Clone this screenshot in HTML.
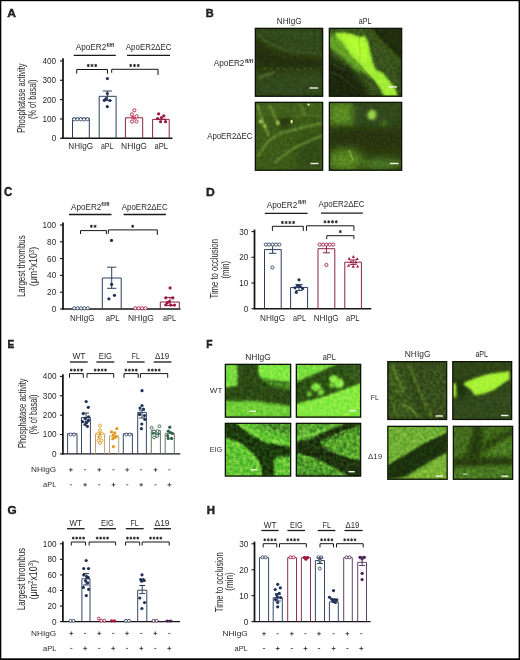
<!DOCTYPE html>
<html><head><meta charset="utf-8"><style>
html,body{margin:0;padding:0;background:#fff;}
svg{display:block;will-change:transform;}
text{font-family:"Liberation Sans",sans-serif;fill:#2a2a2a;}
</style></head><body>
<svg width="520" height="660" viewBox="0 0 520 660">
<defs><filter id="b0_6" x="-50%" y="-50%" width="200%" height="200%"><feGaussianBlur stdDeviation="0.6"/></filter><filter id="b0_7" x="-50%" y="-50%" width="200%" height="200%"><feGaussianBlur stdDeviation="0.7"/></filter><filter id="b0_8" x="-50%" y="-50%" width="200%" height="200%"><feGaussianBlur stdDeviation="0.8"/></filter><filter id="b0_9" x="-50%" y="-50%" width="200%" height="200%"><feGaussianBlur stdDeviation="0.9"/></filter><filter id="b1" x="-50%" y="-50%" width="200%" height="200%"><feGaussianBlur stdDeviation="1"/></filter><filter id="b1_0" x="-50%" y="-50%" width="200%" height="200%"><feGaussianBlur stdDeviation="1.0"/></filter><filter id="b1_1" x="-50%" y="-50%" width="200%" height="200%"><feGaussianBlur stdDeviation="1.1"/></filter><filter id="b1_2" x="-50%" y="-50%" width="200%" height="200%"><feGaussianBlur stdDeviation="1.2"/></filter><filter id="b1_3" x="-50%" y="-50%" width="200%" height="200%"><feGaussianBlur stdDeviation="1.3"/></filter><filter id="b1_5" x="-50%" y="-50%" width="200%" height="200%"><feGaussianBlur stdDeviation="1.5"/></filter><filter id="b1_8" x="-50%" y="-50%" width="200%" height="200%"><feGaussianBlur stdDeviation="1.8"/></filter><filter id="b2" x="-50%" y="-50%" width="200%" height="200%"><feGaussianBlur stdDeviation="2"/></filter><filter id="b2_5" x="-50%" y="-50%" width="200%" height="200%"><feGaussianBlur stdDeviation="2.5"/></filter><filter id="b3" x="-50%" y="-50%" width="200%" height="200%"><feGaussianBlur stdDeviation="3"/></filter><filter id="b4" x="-50%" y="-50%" width="200%" height="200%"><feGaussianBlur stdDeviation="4"/></filter><filter id="tex" x="0" y="0" width="100%" height="100%" color-interpolation-filters="sRGB"><feTurbulence type="fractalNoise" baseFrequency="0.3" numOctaves="2" seed="3"/><feColorMatrix type="matrix" values="2 0 0 0 -0.5  2 0 0 0 -0.5  2 0 0 0 -0.5  0 0 0 0 1"/><feGaussianBlur stdDeviation="0.45"/></filter><clipPath id="cp1"><rect x="255" y="28" width="68" height="68.6"/></clipPath><clipPath id="cp2"><rect x="329" y="28" width="73" height="68.6"/></clipPath><clipPath id="cp3"><rect x="255" y="102" width="68" height="68.6"/></clipPath><clipPath id="cp4"><rect x="329" y="102" width="73" height="68.6"/></clipPath><clipPath id="cp5"><rect x="225" y="364" width="66" height="53.5"/></clipPath><clipPath id="cp6"><rect x="296" y="364" width="65" height="53.5"/></clipPath><clipPath id="cp7"><rect x="225" y="423" width="66" height="53.4"/></clipPath><clipPath id="cp8"><rect x="296" y="423" width="65" height="53.4"/></clipPath><clipPath id="cp9"><rect x="387.5" y="361.3" width="59.5" height="58.5"/></clipPath><clipPath id="cp10"><rect x="452.5" y="361.3" width="59.5" height="58.5"/></clipPath><clipPath id="cp11"><rect x="387.5" y="426" width="60" height="53.6"/></clipPath><clipPath id="cp12"><rect x="453" y="426" width="60" height="53.6"/></clipPath></defs>
<rect x="0" y="0" width="520" height="660" fill="#000"/>
<rect x="1.3" y="1.2" width="517.3" height="657.1" fill="#fff"/>
<text x="0" y="0" font-size="11.06" font-weight="bold" fill="#000" stroke="#000" stroke-width="0.35" transform="translate(7.3 16.71) scale(1.093 1)">A</text>
<line x1="63" y1="58.2" x2="63" y2="138.8" stroke="#151515" stroke-width="1.75"/>
<line x1="60" y1="138.3" x2="63" y2="138.3" stroke="#151515" stroke-width="1.1"/>
<text x="56.2" y="141.2" font-size="8.2" text-anchor="end">0</text>
<line x1="60" y1="118.95" x2="63" y2="118.95" stroke="#151515" stroke-width="1.1"/>
<text x="56.2" y="121.85" font-size="8.2" text-anchor="end">100</text>
<line x1="60" y1="99.6" x2="63" y2="99.6" stroke="#151515" stroke-width="1.1"/>
<text x="56.2" y="102.5" font-size="8.2" text-anchor="end">200</text>
<line x1="60" y1="80.25" x2="63" y2="80.25" stroke="#151515" stroke-width="1.1"/>
<text x="56.2" y="83.15" font-size="8.2" text-anchor="end">300</text>
<line x1="60" y1="60.9" x2="63" y2="60.9" stroke="#151515" stroke-width="1.1"/>
<text x="56.2" y="63.8" font-size="8.2" text-anchor="end">400</text>
<line x1="61.5" y1="138.3" x2="172.5" y2="138.3" stroke="#151515" stroke-width="1.4"/>
<text x="0" y="0" font-size="10.2" text-anchor="middle" textLength="69.3" lengthAdjust="spacingAndGlyphs" transform="translate(25 98.1) rotate(-90)">Phosphatase activity</text>
<text x="0" y="0" font-size="10.2" text-anchor="middle" textLength="39.5" lengthAdjust="spacingAndGlyphs" transform="translate(36.2 99.3) rotate(-90)">(% of basal)</text>
<text x="75.8" y="49.8" font-size="8.4" textLength="30.5" lengthAdjust="spacingAndGlyphs">ApoER2</text>
<text x="106.6" y="46.6" font-size="5.8" textLength="7.6" lengthAdjust="spacingAndGlyphs" font-weight="bold">fl/fl</text>
<line x1="73.7" y1="55.3" x2="115.8" y2="55.3" stroke="#1a1a1a" stroke-width="1.3"/>
<text x="125.8" y="49.8" font-size="8.4" textLength="45.8" lengthAdjust="spacingAndGlyphs">ApoER2ΔEC</text>
<line x1="127" y1="55.3" x2="170" y2="55.3" stroke="#1a1a1a" stroke-width="1.3"/>
<path d="M76.7 73.7V69.5H107.5V73.7" stroke="#151515" stroke-width="1" fill="none"/>
<path d="M88.25 64.35L88.25 66.65M87.25 64.92L89.25 66.08M87.25 66.08L89.25 64.92" stroke="#1a1a1a" stroke-width="0.95" stroke-linecap="round"/>
<path d="M92 64.35L92 66.65M91 64.92L93 66.08M91 66.08L93 64.92" stroke="#1a1a1a" stroke-width="0.95" stroke-linecap="round"/>
<path d="M95.75 64.35L95.75 66.65M94.75 64.92L96.75 66.08M94.75 66.08L96.75 64.92" stroke="#1a1a1a" stroke-width="0.95" stroke-linecap="round"/>
<path d="M111.7 72.8V69.3H158V75" stroke="#151515" stroke-width="1" fill="none"/>
<path d="M130.75 64.35L130.75 66.65M129.75 64.92L131.75 66.08M129.75 66.08L131.75 64.92" stroke="#1a1a1a" stroke-width="0.95" stroke-linecap="round"/>
<path d="M134.5 64.35L134.5 66.65M133.5 64.92L135.5 66.08M133.5 66.08L135.5 64.92" stroke="#1a1a1a" stroke-width="0.95" stroke-linecap="round"/>
<path d="M138.25 64.35L138.25 66.65M137.25 64.92L139.25 66.08M137.25 66.08L139.25 64.92" stroke="#1a1a1a" stroke-width="0.95" stroke-linecap="round"/>
<path d="M72.5 138.3V118.2H89.3V138.3" stroke="#2c3d5e" stroke-width="1" fill="none"/>
<circle cx="74.1" cy="119.3" r="1.6" fill="#fff" stroke="#2c3d5e" stroke-width="0.85"/>
<circle cx="77.4" cy="119.3" r="1.6" fill="#fff" stroke="#2c3d5e" stroke-width="0.85"/>
<circle cx="80.8" cy="119.3" r="1.6" fill="#fff" stroke="#2c3d5e" stroke-width="0.85"/>
<circle cx="84.1" cy="119.3" r="1.6" fill="#fff" stroke="#2c3d5e" stroke-width="0.85"/>
<circle cx="87.4" cy="119.3" r="1.6" fill="#fff" stroke="#2c3d5e" stroke-width="0.85"/>
<path d="M99.2 138.3V96.3H116.1V138.3" stroke="#2c3d5e" stroke-width="1" fill="none"/>
<line x1="107.4" y1="91" x2="107.4" y2="100.5" stroke="#2c3d5e" stroke-width="1"/>
<line x1="102.9" y1="91" x2="111.9" y2="91" stroke="#2c3d5e" stroke-width="1"/>
<line x1="102.9" y1="100.5" x2="111.9" y2="100.5" stroke="#2c3d5e" stroke-width="1"/>
<circle cx="107.4" cy="78.6" r="1.6" fill="#1f3155"/>
<circle cx="107.4" cy="93.5" r="1.6" fill="#1f3155"/>
<circle cx="104.3" cy="100.3" r="1.6" fill="#1f3155"/>
<circle cx="109.8" cy="100.5" r="1.6" fill="#1f3155"/>
<circle cx="107.3" cy="106.6" r="1.6" fill="#1f3155"/>
<circle cx="106" cy="98.5" r="1.6" fill="#1f3155"/>
<path d="M125.4 138.3V117.8H142.7V138.3" stroke="#8a2444" stroke-width="1" fill="none"/>
<circle cx="134.3" cy="110.3" r="1.6" fill="#fff" stroke="#a3173f" stroke-width="0.85"/>
<circle cx="131.8" cy="114.4" r="1.6" fill="#fff" stroke="#a3173f" stroke-width="0.85"/>
<circle cx="136.5" cy="116.3" r="1.6" fill="#fff" stroke="#a3173f" stroke-width="0.85"/>
<circle cx="132" cy="121.5" r="1.6" fill="#fff" stroke="#a3173f" stroke-width="0.85"/>
<circle cx="136.5" cy="121.5" r="1.6" fill="#fff" stroke="#a3173f" stroke-width="0.85"/>
<circle cx="134.3" cy="118.2" r="1.6" fill="#c46"/>
<circle cx="132.8" cy="117.2" r="1.6" fill="#c46"/>
<path d="M152.6 138.3V119.4H169.2V138.3" stroke="#8a2444" stroke-width="1" fill="none"/>
<circle cx="158.6" cy="113.8" r="1.6" fill="#a3173f"/>
<circle cx="161.5" cy="117.5" r="1.6" fill="#a3173f"/>
<circle cx="163.8" cy="115.8" r="1.6" fill="#a3173f"/>
<circle cx="160.6" cy="121.7" r="1.6" fill="#a3173f"/>
<circle cx="165.6" cy="121.7" r="1.6" fill="#a3173f"/>
<circle cx="157.6" cy="118.6" r="1.6" fill="#a3173f"/>
<line x1="156" y1="119.2" x2="166" y2="119.2" stroke="#8a2444" stroke-width="1"/>
<text x="68.3" y="148.7" font-size="8.4" textLength="24.8" lengthAdjust="spacingAndGlyphs">NHIgG</text>
<text x="101" y="148.7" font-size="8.4" textLength="12.4" lengthAdjust="spacingAndGlyphs">aPL</text>
<text x="121" y="148.7" font-size="8.4" textLength="26" lengthAdjust="spacingAndGlyphs">NHIgG</text>
<text x="154.5" y="148.7" font-size="8.4" textLength="13.5" lengthAdjust="spacingAndGlyphs">aPL</text>
<text x="0" y="0" font-size="10.63" font-weight="bold" fill="#000" stroke="#000" stroke-width="0.35" transform="translate(205.86 16.71) scale(1.035 1)">B</text>
<text x="276.8" y="23.7" font-size="8.3" textLength="24.9" lengthAdjust="spacingAndGlyphs">NHIgG</text>
<text x="358.8" y="23.8" font-size="8.3" textLength="12.7" lengthAdjust="spacingAndGlyphs">aPL</text>
<text x="213.8" y="66.4" font-size="8.4" textLength="30.6" lengthAdjust="spacingAndGlyphs">ApoER2</text>
<text x="245" y="63.2" font-size="5.8" textLength="8.2" lengthAdjust="spacingAndGlyphs" font-weight="bold">fl/fl</text>
<text x="207.2" y="138.5" font-size="8.4" textLength="45.3" lengthAdjust="spacingAndGlyphs">ApoER2ΔEC</text>
<g clip-path="url(#cp1)">
<rect x="255" y="28" width="68" height="68.6" fill="#2d3e12"/>
<polygon points="255,28 323,28 323,56 295,53 275,45 261,36 255,34" fill="#33481a" filter="url(#b3)"/>
<path d="M257 34 L269 44 L285 50 L305 53 L323 54" stroke="#45602a" stroke-width="2.2" fill="none" opacity="0.9" filter="url(#b1_2)"/>
<path d="M265 32 L295 33 L323 34" stroke="#45602a" stroke-width="1.2" fill="none" opacity="0.6" filter="url(#b1)"/>
<polygon points="255,40 267,50 285,57 323,60 323,69 285,68 255,66" fill="#222f0c" filter="url(#b3)"/>
<polygon points="255,74 323,72 323,96.6 255,96.6" fill="#33481a" filter="url(#b4)"/>
<path d="M255 28 L255 96.6" stroke="#1e2a0a" stroke-width="4" fill="none" opacity="0.8" filter="url(#b1_5)"/>
<path d="M258 78 L275 72" stroke="#6a8a3a" stroke-width="1.8" fill="none" opacity="0.8" filter="url(#b0_8)"/>
<ellipse cx="265" cy="68.5" rx="1.3" ry="1.1" fill="#4e6e2a" opacity="0.6" filter="url(#b0_7)"/>
<ellipse cx="271.6" cy="69.1" rx="1.3" ry="1.1" fill="#4e6e2a" opacity="0.6" filter="url(#b0_7)"/>
<ellipse cx="278.2" cy="68.5" rx="1.3" ry="1.1" fill="#4e6e2a" opacity="0.6" filter="url(#b0_7)"/>
<ellipse cx="284.8" cy="69.1" rx="1.3" ry="1.1" fill="#4e6e2a" opacity="0.6" filter="url(#b0_7)"/>
<ellipse cx="291.4" cy="68.5" rx="1.3" ry="1.1" fill="#4e6e2a" opacity="0.6" filter="url(#b0_7)"/>
<ellipse cx="298" cy="69.1" rx="1.3" ry="1.1" fill="#4e6e2a" opacity="0.6" filter="url(#b0_7)"/>
<ellipse cx="304.6" cy="68.5" rx="1.3" ry="1.1" fill="#4e6e2a" opacity="0.6" filter="url(#b0_7)"/>
<ellipse cx="311.2" cy="69.1" rx="1.3" ry="1.1" fill="#4e6e2a" opacity="0.6" filter="url(#b0_7)"/>
<rect x="255" y="28" width="68" height="68.6" filter="url(#tex)" style="mix-blend-mode:overlay" opacity="0.1"/>
<rect x="309.5" y="87.3" width="8.6" height="1.4" fill="#f4f4e8"/>
</g>
<rect x="255.35" y="28.35" width="67.3" height="67.9" fill="none" stroke="#0e1408" stroke-width="1.3"/>
<g clip-path="url(#cp2)">
<rect x="329" y="28" width="73" height="68.6" fill="#1e2a0e"/>
<polygon points="335,28 369,28 389,48 402,62 402,96.6 367,96.6 351,72 329,58 329,36" fill="#38521a" filter="url(#b3)"/>
<polygon points="369,28 402,28 402,58 387,44" fill="#222f0e" filter="url(#b3)"/>
<path d="M365 28 L402 66" stroke="#3e5a1a" stroke-width="3" fill="none" opacity="0.8" filter="url(#b1_5)"/>
<path d="M377 32 L402 56" stroke="#1a240a" stroke-width="1.5" fill="none" opacity="0.8" filter="url(#b1)"/>
<polygon points="329,58 347,68 363,84 369,96.6 329,96.6" fill="#1d280c" filter="url(#b3)"/>
<polygon points="329,28 369,28 365,34 343,32 329,36" fill="#3e5e1a" filter="url(#b1_5)"/>
<polygon points="329,36 337,33 343,36 351,48 359,60 367,72 359,72 349,64 339,55 329,48" fill="#64a026" filter="url(#b1_5)"/>
<polygon points="335,33 343,32.5 352,34 359,37 365,36 368,42 370.5,54 374,65.5 377,71 382,72 387,78 392,84 396,90 398,96.6 384,96.6 380,88 374,80 366,73 358.7,63 350,54 344.8,45 337.5,38" fill="#a2ee34" filter="url(#b1_3)"/>
<polygon points="343,35 357,38 364,40 367,50 369,60 363,62 355,54 347,44" fill="#b2fc30" filter="url(#b2)"/>
<path d="M359 32 L360 48 L360 64" stroke="#6a9a28" stroke-width="0.9" fill="none" opacity="0.35" filter="url(#b0_6)"/>
<path d="M369 28 L402 62" stroke="#587a26" stroke-width="1.6" fill="none" opacity="0.6" filter="url(#b0_8)"/>
<path d="M359 64 L373 80 L379 92" stroke="#2a4010" stroke-width="1" fill="none" opacity="0.35" filter="url(#b0_6)"/>
<path d="M331 72 L343 78 L357 90" stroke="#34501a" stroke-width="1" fill="none" opacity="0.7" filter="url(#b0_6)"/>
<path d="M333 64 L345 70" stroke="#3c5a1a" stroke-width="1" fill="none" opacity="0.8" filter="url(#b0_6)"/>
<rect x="329" y="28" width="73" height="68.6" filter="url(#tex)" style="mix-blend-mode:overlay" opacity="0.15"/>
<rect x="388.5" y="86.2" width="8.5" height="1.4" fill="#f4f4e8"/>
</g>
<rect x="329.35" y="28.35" width="72.3" height="67.9" fill="none" stroke="#0e1408" stroke-width="1.3"/>
<g clip-path="url(#cp3)">
<rect x="255" y="102" width="68" height="68.6" fill="#3d5a18"/>
<ellipse cx="285" cy="121" rx="6.5" ry="7" fill="#26380e" filter="url(#b2_5)"/>
<polygon points="299,138 323,132 323,170.6 295,170.6" fill="#334c14" filter="url(#b4)"/>
<polygon points="255,102 323,102 323,114 255,114" fill="#42621a" filter="url(#b3)"/>
<path d="M257.6 104.6 L262.8 121.6 L265.5 128 L269 136" stroke="#82ac44" stroke-width="2" fill="none" opacity="0.75" filter="url(#b1_0)"/>
<path d="M269.4 104.6 L274 115 L278.5 124" stroke="#82ac44" stroke-width="2" fill="none" opacity="0.7" filter="url(#b1_0)"/>
<path d="M300.7 104.6 L304.7 115" stroke="#7ca640" stroke-width="1.8" fill="none" opacity="0.55" filter="url(#b1_0)"/>
<path d="M257.6 157 L268 141 L281 133 L300.7 128 L323 123" stroke="#7aa640" stroke-width="2" fill="none" opacity="0.75" filter="url(#b1_0)"/>
<path d="M274.6 163 L294 147.7 L323 135" stroke="#7aa640" stroke-width="2" fill="none" opacity="0.7" filter="url(#b1_0)"/>
<path d="M280 117 L300 116 L323 115" stroke="#5a8428" stroke-width="2" fill="none" opacity="0.5" filter="url(#b1_2)"/>
<ellipse cx="260.9" cy="121.6" rx="1.9" ry="1.9" fill="#d0f070" filter="url(#b0_8)"/>
<ellipse cx="264.8" cy="126.2" rx="1.5" ry="1.5" fill="#b8e060" filter="url(#b0_8)"/>
<ellipse cx="277.9" cy="123" rx="1.5" ry="2" fill="#c0e868" filter="url(#b0_8)"/>
<ellipse cx="291.6" cy="121.6" rx="1.1" ry="1.8" fill="#e8ff90" filter="url(#b0_6)"/>
<ellipse cx="308.6" cy="104.6" rx="1.3" ry="1.1" fill="#e8ff90" filter="url(#b0_6)"/>
<rect x="255" y="102" width="68" height="68.6" filter="url(#tex)" style="mix-blend-mode:overlay" opacity="0.1"/>
<rect x="310.5" y="162.8" width="8" height="1.4" fill="#f4f4e8"/>
</g>
<rect x="255.35" y="102.35" width="67.3" height="67.9" fill="none" stroke="#0e1408" stroke-width="1.3"/>
<g clip-path="url(#cp4)">
<rect x="329" y="102" width="73" height="68.6" fill="#2c3c10"/>
<polygon points="349,102 402,102 402,128 349,128" fill="#33481a" filter="url(#b3)"/>
<polygon points="329,102 353,102 353,126 329,126" fill="#5a8a22" filter="url(#b3)"/>
<ellipse cx="372" cy="115" rx="4.5" ry="5" fill="#9cd848" filter="url(#b1_8)"/>
<ellipse cx="384" cy="124" rx="4" ry="3" fill="#4a7420" filter="url(#b2)"/>
<polygon points="329,129 402,129 402,148 329,148" fill="#26340d" filter="url(#b4)"/>
<ellipse cx="345" cy="160" rx="18" ry="11" fill="#5a8a24" filter="url(#b4)"/>
<ellipse cx="381" cy="164" rx="22" ry="6" fill="#4a7420" filter="url(#b3)"/>
<path d="M349 150 L353 160" stroke="#8dc450" stroke-width="1.2" fill="none" opacity="0.7" filter="url(#b0_7)"/>
<rect x="329" y="102" width="73" height="68.6" filter="url(#tex)" style="mix-blend-mode:overlay" opacity="0.1"/>
<rect x="390" y="162.8" width="8.5" height="1.4" fill="#f4f4e8"/>
</g>
<rect x="329.35" y="102.35" width="72.3" height="67.9" fill="none" stroke="#0e1408" stroke-width="1.3"/>
<text x="0" y="0" font-size="12.02" font-weight="bold" fill="#000" stroke="#000" stroke-width="0.35" transform="translate(4.03 195.69) scale(0.955 1)">C</text>
<line x1="63" y1="222.5" x2="63" y2="309.5" stroke="#151515" stroke-width="1.75"/>
<line x1="60" y1="309" x2="63" y2="309" stroke="#151515" stroke-width="1.1"/>
<text x="56.2" y="311.9" font-size="8.2" text-anchor="end">0</text>
<line x1="60" y1="292.2" x2="63" y2="292.2" stroke="#151515" stroke-width="1.1"/>
<text x="56.2" y="295.1" font-size="8.2" text-anchor="end">20</text>
<line x1="60" y1="275.4" x2="63" y2="275.4" stroke="#151515" stroke-width="1.1"/>
<text x="56.2" y="278.3" font-size="8.2" text-anchor="end">40</text>
<line x1="60" y1="258.6" x2="63" y2="258.6" stroke="#151515" stroke-width="1.1"/>
<text x="56.2" y="261.5" font-size="8.2" text-anchor="end">60</text>
<line x1="60" y1="241.8" x2="63" y2="241.8" stroke="#151515" stroke-width="1.1"/>
<text x="56.2" y="244.7" font-size="8.2" text-anchor="end">80</text>
<line x1="60" y1="225" x2="63" y2="225" stroke="#151515" stroke-width="1.1"/>
<text x="56.2" y="227.9" font-size="8.2" text-anchor="end">100</text>
<line x1="62" y1="309" x2="180.5" y2="309" stroke="#151515" stroke-width="1.4"/>
<text x="0" y="0" font-size="10.2" text-anchor="middle" textLength="61.8" lengthAdjust="spacingAndGlyphs" transform="translate(25.1 266.2) rotate(-90)">Largest thrombus</text>
<g transform="translate(37 266.5) rotate(-90)"><text x="0" y="0" font-size="10.2" text-anchor="middle" fill="#2a2a2a" textLength="39.4" lengthAdjust="spacingAndGlyphs">(μm<tspan font-size="7" dy="-3.4">2</tspan><tspan dy="3.4">x10</tspan><tspan font-size="7" dy="-3.4">3</tspan><tspan dy="3.4">)</tspan></text></g>
<text x="71" y="209.6" font-size="8.4" textLength="30.3" lengthAdjust="spacingAndGlyphs">ApoER2</text>
<text x="101.3" y="205.8" font-size="5.8" textLength="8.3" lengthAdjust="spacingAndGlyphs" font-weight="bold">fl/fl</text>
<line x1="69" y1="214.5" x2="111.5" y2="214.5" stroke="#1a1a1a" stroke-width="1.3"/>
<text x="121.7" y="209.7" font-size="8.4" textLength="46" lengthAdjust="spacingAndGlyphs">ApoER2ΔEC</text>
<line x1="123.6" y1="214.5" x2="165.9" y2="214.5" stroke="#1a1a1a" stroke-width="1.3"/>
<path d="M80.5 234V230.6H106.4V234" stroke="#151515" stroke-width="1" fill="none"/>
<path d="M91.33 225.15L91.33 227.45M90.33 225.73L92.32 226.88M90.33 226.88L92.32 225.73" stroke="#1a1a1a" stroke-width="0.95" stroke-linecap="round"/>
<path d="M95.08 225.15L95.08 227.45M94.08 225.73L96.07 226.88M94.08 226.88L96.07 225.73" stroke="#1a1a1a" stroke-width="0.95" stroke-linecap="round"/>
<path d="M108.3 233.7V229.9H157.3V234.9" stroke="#151515" stroke-width="1" fill="none"/>
<path d="M132.7 225.15L132.7 227.45M131.7 225.73L133.7 226.88M131.7 226.88L133.7 225.73" stroke="#1a1a1a" stroke-width="0.95" stroke-linecap="round"/>
<circle cx="74.2" cy="308.3" r="1.6" fill="#fff" stroke="#2c3d5e" stroke-width="0.85"/>
<circle cx="77.6" cy="308.3" r="1.6" fill="#fff" stroke="#2c3d5e" stroke-width="0.85"/>
<circle cx="81" cy="308.3" r="1.6" fill="#fff" stroke="#2c3d5e" stroke-width="0.85"/>
<circle cx="84.4" cy="308.3" r="1.6" fill="#fff" stroke="#2c3d5e" stroke-width="0.85"/>
<circle cx="87.8" cy="308.3" r="1.6" fill="#fff" stroke="#2c3d5e" stroke-width="0.85"/>
<path d="M102.3 309V278H121.2V309" stroke="#2c3d5e" stroke-width="1" fill="none"/>
<line x1="111.7" y1="267.2" x2="111.7" y2="288.3" stroke="#2c3d5e" stroke-width="1"/>
<line x1="107.1" y1="267.2" x2="116.3" y2="267.2" stroke="#2c3d5e" stroke-width="1"/>
<line x1="107.1" y1="288.3" x2="116.3" y2="288.3" stroke="#2c3d5e" stroke-width="1"/>
<circle cx="111.5" cy="240.4" r="1.6" fill="#1f3155"/>
<circle cx="111.6" cy="284.4" r="1.6" fill="#1f3155"/>
<circle cx="114.5" cy="295.3" r="1.6" fill="#1f3155"/>
<circle cx="108.9" cy="298.8" r="1.6" fill="#1f3155"/>
<circle cx="135.3" cy="308.3" r="1.6" fill="#fff" stroke="#a3173f" stroke-width="0.85"/>
<circle cx="138.7" cy="308.3" r="1.6" fill="#fff" stroke="#a3173f" stroke-width="0.85"/>
<circle cx="142.1" cy="308.3" r="1.6" fill="#fff" stroke="#a3173f" stroke-width="0.85"/>
<circle cx="145.5" cy="308.3" r="1.6" fill="#fff" stroke="#a3173f" stroke-width="0.85"/>
<path d="M160.3 309V302H179.3V309" stroke="#8a2444" stroke-width="1" fill="none"/>
<line x1="170" y1="297.4" x2="170" y2="305.5" stroke="#8a2444" stroke-width="1"/>
<line x1="165.8" y1="297.4" x2="174.2" y2="297.4" stroke="#8a2444" stroke-width="1"/>
<line x1="165.8" y1="305.5" x2="174.2" y2="305.5" stroke="#8a2444" stroke-width="1"/>
<circle cx="170.1" cy="287.9" r="1.6" fill="#a3173f"/>
<circle cx="165.8" cy="297.8" r="1.6" fill="#a3173f"/>
<circle cx="172.8" cy="297.9" r="1.6" fill="#a3173f"/>
<circle cx="169.4" cy="301.5" r="1.6" fill="#a3173f"/>
<circle cx="165.8" cy="304.8" r="1.6" fill="#a3173f"/>
<circle cx="171" cy="305.1" r="1.6" fill="#a3173f"/>
<circle cx="174.5" cy="305.1" r="1.6" fill="#a3173f"/>
<circle cx="167.3" cy="302.7" r="1.6" fill="#a3173f"/>
<text x="70" y="320.7" font-size="8.4" textLength="24.5" lengthAdjust="spacingAndGlyphs">NHIgG</text>
<text x="105.7" y="320.7" font-size="8.4" textLength="13.8" lengthAdjust="spacingAndGlyphs">aPL</text>
<text x="128" y="320.7" font-size="8.4" textLength="25.7" lengthAdjust="spacingAndGlyphs">NHIgG</text>
<text x="163" y="320.7" font-size="8.4" textLength="13" lengthAdjust="spacingAndGlyphs">aPL</text>
<text x="0" y="0" font-size="11.5" font-weight="bold" fill="#000" stroke="#000" stroke-width="0.35" transform="translate(206.09 195.51) scale(1.052 1)">D</text>
<line x1="254.5" y1="229.5" x2="254.5" y2="309.2" stroke="#151515" stroke-width="1.75"/>
<line x1="251.5" y1="308.7" x2="254.5" y2="308.7" stroke="#151515" stroke-width="1.1"/>
<text x="248.3" y="311.6" font-size="8.2" text-anchor="end">0</text>
<line x1="251.5" y1="283" x2="254.5" y2="283" stroke="#151515" stroke-width="1.1"/>
<text x="248.3" y="285.9" font-size="8.2" text-anchor="end">10</text>
<line x1="251.5" y1="257.3" x2="254.5" y2="257.3" stroke="#151515" stroke-width="1.1"/>
<text x="248.3" y="260.2" font-size="8.2" text-anchor="end">20</text>
<line x1="251.5" y1="231.6" x2="254.5" y2="231.6" stroke="#151515" stroke-width="1.1"/>
<text x="248.3" y="234.5" font-size="8.2" text-anchor="end">30</text>
<line x1="253.8" y1="308.7" x2="371.3" y2="308.7" stroke="#151515" stroke-width="1.4"/>
<text x="0" y="0" font-size="10.4" text-anchor="middle" textLength="59.4" lengthAdjust="spacingAndGlyphs" transform="translate(218.2 268.8) rotate(-90)">Time to occlusion</text>
<text x="0" y="0" font-size="10.2" text-anchor="middle" textLength="17.6" lengthAdjust="spacingAndGlyphs" transform="translate(229.3 269.7) rotate(-90)">(min)</text>
<text x="266.7" y="207.6" font-size="8.4" textLength="30.5" lengthAdjust="spacingAndGlyphs">ApoER2</text>
<text x="298" y="204.4" font-size="5.8" textLength="8" lengthAdjust="spacingAndGlyphs" font-weight="bold">fl/fl</text>
<line x1="264.8" y1="213.4" x2="307.6" y2="213.4" stroke="#1a1a1a" stroke-width="1.3"/>
<text x="318.6" y="207.4" font-size="8.4" textLength="46" lengthAdjust="spacingAndGlyphs">ApoER2ΔEC</text>
<line x1="321" y1="213.2" x2="362.8" y2="213.2" stroke="#1a1a1a" stroke-width="1.3"/>
<path d="M272.4 230.9V226.3H303.3V230.9" stroke="#151515" stroke-width="1" fill="none"/>
<path d="M282.38 221.35L282.38 223.65M281.38 221.93L283.37 223.07M281.38 223.07L283.37 221.93" stroke="#1a1a1a" stroke-width="0.95" stroke-linecap="round"/>
<path d="M286.12 221.35L286.12 223.65M285.13 221.93L287.12 223.07M285.13 223.07L287.12 221.93" stroke="#1a1a1a" stroke-width="0.95" stroke-linecap="round"/>
<path d="M289.88 221.35L289.88 223.65M288.88 221.93L290.87 223.07M288.88 223.07L290.87 221.93" stroke="#1a1a1a" stroke-width="0.95" stroke-linecap="round"/>
<path d="M293.62 221.35L293.62 223.65M292.63 221.93L294.62 223.07M292.63 223.07L294.62 221.93" stroke="#1a1a1a" stroke-width="0.95" stroke-linecap="round"/>
<path d="M306.5 230.8V225.8H353.9V230.8" stroke="#151515" stroke-width="1" fill="none"/>
<path d="M324.98 220.65L324.98 222.95M323.98 221.23L325.97 222.38M323.98 222.38L325.97 221.23" stroke="#1a1a1a" stroke-width="0.95" stroke-linecap="round"/>
<path d="M328.73 220.65L328.73 222.95M327.73 221.23L329.72 222.38M327.73 222.38L329.72 221.23" stroke="#1a1a1a" stroke-width="0.95" stroke-linecap="round"/>
<path d="M332.48 220.65L332.48 222.95M331.48 221.23L333.47 222.38M331.48 222.38L333.47 221.23" stroke="#1a1a1a" stroke-width="0.95" stroke-linecap="round"/>
<path d="M336.23 220.65L336.23 222.95M335.23 221.23L337.22 222.38M335.23 222.38L337.22 221.23" stroke="#1a1a1a" stroke-width="0.95" stroke-linecap="round"/>
<path d="M326.8 239.1V235.7H353.9V239.1" stroke="#151515" stroke-width="1" fill="none"/>
<path d="M340.3 230.45L340.3 232.75M339.3 231.03L341.3 232.17M339.3 232.17L341.3 231.03" stroke="#1a1a1a" stroke-width="0.95" stroke-linecap="round"/>
<path d="M264.5 308.7V249.6H281.2V308.7" stroke="#2c3d5e" stroke-width="1" fill="none"/>
<line x1="272.6" y1="244.6" x2="272.6" y2="253.3" stroke="#2c3d5e" stroke-width="1"/>
<line x1="268.9" y1="244.6" x2="276.3" y2="244.6" stroke="#2c3d5e" stroke-width="1"/>
<line x1="268.9" y1="253.3" x2="276.3" y2="253.3" stroke="#2c3d5e" stroke-width="1"/>
<circle cx="265.8" cy="244.6" r="1.6" fill="#fff" stroke="#2c3d5e" stroke-width="0.85"/>
<circle cx="269.2" cy="244.6" r="1.6" fill="#fff" stroke="#2c3d5e" stroke-width="0.85"/>
<circle cx="272.6" cy="244.6" r="1.6" fill="#fff" stroke="#2c3d5e" stroke-width="0.85"/>
<circle cx="276" cy="244.6" r="1.6" fill="#fff" stroke="#2c3d5e" stroke-width="0.85"/>
<circle cx="279.4" cy="244.6" r="1.6" fill="#fff" stroke="#2c3d5e" stroke-width="0.85"/>
<circle cx="272.4" cy="267.5" r="1.6" fill="#fff" stroke="#2c3d5e" stroke-width="0.85"/>
<path d="M290.6 308.7V287.4H307.6V308.7" stroke="#2c3d5e" stroke-width="1" fill="none"/>
<line x1="299" y1="284.6" x2="299" y2="290.6" stroke="#2c3d5e" stroke-width="1"/>
<line x1="295.4" y1="284.6" x2="302.6" y2="284.6" stroke="#2c3d5e" stroke-width="1"/>
<line x1="295.4" y1="290.6" x2="302.6" y2="290.6" stroke="#2c3d5e" stroke-width="1"/>
<circle cx="299" cy="279.8" r="1.6" fill="#1f3155"/>
<circle cx="297.6" cy="285.7" r="1.6" fill="#1f3155"/>
<circle cx="296.3" cy="292.3" r="1.6" fill="#1f3155"/>
<circle cx="302.6" cy="288.5" r="1.6" fill="#1f3155"/>
<circle cx="300.2" cy="286.6" r="1.6" fill="#1f3155"/>
<circle cx="295" cy="287.8" r="1.6" fill="#1f3155"/>
<path d="M318 308.7V248.7H334.8V308.7" stroke="#8a2444" stroke-width="1" fill="none"/>
<line x1="326.4" y1="244.6" x2="326.4" y2="252.8" stroke="#8a2444" stroke-width="1"/>
<line x1="322.8" y1="244.6" x2="330" y2="244.6" stroke="#8a2444" stroke-width="1"/>
<line x1="322.8" y1="252.8" x2="330" y2="252.8" stroke="#8a2444" stroke-width="1"/>
<circle cx="319.6" cy="244.6" r="1.6" fill="#fff" stroke="#a3173f" stroke-width="0.85"/>
<circle cx="323" cy="244.6" r="1.6" fill="#fff" stroke="#a3173f" stroke-width="0.85"/>
<circle cx="326.4" cy="244.6" r="1.6" fill="#fff" stroke="#a3173f" stroke-width="0.85"/>
<circle cx="329.8" cy="244.6" r="1.6" fill="#fff" stroke="#a3173f" stroke-width="0.85"/>
<circle cx="333.2" cy="244.6" r="1.6" fill="#fff" stroke="#a3173f" stroke-width="0.85"/>
<circle cx="326.4" cy="265" r="1.6" fill="#fff" stroke="#a3173f" stroke-width="0.85"/>
<path d="M344.8 308.7V262.2H361.4V308.7" stroke="#8a2444" stroke-width="1" fill="none"/>
<line x1="353.1" y1="259.9" x2="353.1" y2="264.6" stroke="#8a2444" stroke-width="1"/>
<line x1="349.5" y1="259.9" x2="356.7" y2="259.9" stroke="#8a2444" stroke-width="1"/>
<line x1="349.5" y1="264.6" x2="356.7" y2="264.6" stroke="#8a2444" stroke-width="1"/>
<path d="M349.2 256.9L350.83 259.76L347.57 259.76Z" fill="#a3173f"/>
<path d="M353.4 255.09L355.03 257.96L351.77 257.96Z" fill="#a3173f"/>
<path d="M357.2 257.19L358.83 260.06L355.57 260.06Z" fill="#a3173f"/>
<path d="M348.6 263.9L350.23 266.76L346.97 266.76Z" fill="#a3173f"/>
<path d="M353.2 264.8L354.83 267.66L351.57 267.66Z" fill="#a3173f"/>
<path d="M357.6 264.69L359.23 267.56L355.97 267.56Z" fill="#a3173f"/>
<path d="M351 260.3L352.63 263.16L349.37 263.16Z" fill="#a3173f"/>
<path d="M355.8 260.6L357.43 263.46L354.17 263.46Z" fill="#a3173f"/>
<text x="260" y="321" font-size="8.4" textLength="25" lengthAdjust="spacingAndGlyphs">NHIgG</text>
<text x="293" y="321" font-size="8.4" textLength="13" lengthAdjust="spacingAndGlyphs">aPL</text>
<text x="313.7" y="321" font-size="8.4" textLength="25" lengthAdjust="spacingAndGlyphs">NHIgG</text>
<text x="346" y="321" font-size="8.4" textLength="13.5" lengthAdjust="spacingAndGlyphs">aPL</text>
<text x="0" y="0" font-size="10.19" font-weight="bold" fill="#000" stroke="#000" stroke-width="0.35" transform="translate(7.52 348.41) scale(0.999 1)">E</text>
<line x1="62.9" y1="374.2" x2="62.9" y2="454.4" stroke="#151515" stroke-width="1.75"/>
<line x1="59.9" y1="453.9" x2="62.9" y2="453.9" stroke="#151515" stroke-width="1.1"/>
<text x="56.5" y="456.8" font-size="8.2" text-anchor="end">0</text>
<line x1="59.9" y1="434.52" x2="62.9" y2="434.52" stroke="#151515" stroke-width="1.1"/>
<text x="56.5" y="437.42" font-size="8.2" text-anchor="end">100</text>
<line x1="59.9" y1="415.15" x2="62.9" y2="415.15" stroke="#151515" stroke-width="1.1"/>
<text x="56.5" y="418.05" font-size="8.2" text-anchor="end">200</text>
<line x1="59.9" y1="395.77" x2="62.9" y2="395.77" stroke="#151515" stroke-width="1.1"/>
<text x="56.5" y="398.67" font-size="8.2" text-anchor="end">300</text>
<line x1="59.9" y1="376.4" x2="62.9" y2="376.4" stroke="#151515" stroke-width="1.1"/>
<text x="56.5" y="379.3" font-size="8.2" text-anchor="end">400</text>
<line x1="62" y1="453.9" x2="180.3" y2="453.9" stroke="#151515" stroke-width="1.4"/>
<text x="0" y="0" font-size="10.2" text-anchor="middle" textLength="69.6" lengthAdjust="spacingAndGlyphs" transform="translate(25.5 413.2) rotate(-90)">Phosphatase activity</text>
<text x="0" y="0" font-size="10.2" text-anchor="middle" textLength="40" lengthAdjust="spacingAndGlyphs" transform="translate(36.7 414.5) rotate(-90)">(% of basal)</text>
<text x="72.4" y="359.2" font-size="8.3" textLength="13.1" lengthAdjust="spacingAndGlyphs">WT</text>
<line x1="70" y1="362" x2="87.7" y2="362" stroke="#1a1a1a" stroke-width="1.3"/>
<text x="98.8" y="359.2" font-size="8.3" textLength="13.2" lengthAdjust="spacingAndGlyphs">EIG</text>
<line x1="96.4" y1="362" x2="114.3" y2="362" stroke="#1a1a1a" stroke-width="1.3"/>
<text x="131.8" y="359.2" font-size="8.3" textLength="7.9" lengthAdjust="spacingAndGlyphs">FL</text>
<line x1="127" y1="362" x2="144.6" y2="362" stroke="#1a1a1a" stroke-width="1.3"/>
<text x="155" y="359.2" font-size="8.3" textLength="14.2" lengthAdjust="spacingAndGlyphs">Δ19</text>
<line x1="153.7" y1="362" x2="171.4" y2="362" stroke="#1a1a1a" stroke-width="1.3"/>
<path d="M69.5 377.8V373.6H83.3V377.8" stroke="#151515" stroke-width="1" fill="none"/>
<path d="M71.23 369.04L71.23 371.16M70.31 369.57L72.14 370.63M70.31 370.63L72.14 369.57" stroke="#1a1a1a" stroke-width="0.87" stroke-linecap="round"/>
<path d="M74.68 369.04L74.68 371.16M73.76 369.57L75.59 370.63M73.76 370.63L75.59 369.57" stroke="#1a1a1a" stroke-width="0.87" stroke-linecap="round"/>
<path d="M78.13 369.04L78.13 371.16M77.21 369.57L79.04 370.63M77.21 370.63L79.04 369.57" stroke="#1a1a1a" stroke-width="0.87" stroke-linecap="round"/>
<path d="M81.58 369.04L81.58 371.16M80.66 369.57L82.49 370.63M80.66 370.63L82.49 369.57" stroke="#1a1a1a" stroke-width="0.87" stroke-linecap="round"/>
<path d="M87 377.8V373.6H113.7V377.8" stroke="#151515" stroke-width="1" fill="none"/>
<path d="M95.17 369.04L95.17 371.16M94.26 369.57L96.09 370.63M94.26 370.63L96.09 369.57" stroke="#1a1a1a" stroke-width="0.87" stroke-linecap="round"/>
<path d="M98.62 369.04L98.62 371.16M97.71 369.57L99.54 370.63M97.71 370.63L99.54 369.57" stroke="#1a1a1a" stroke-width="0.87" stroke-linecap="round"/>
<path d="M102.08 369.04L102.08 371.16M101.16 369.57L102.99 370.63M101.16 370.63L102.99 369.57" stroke="#1a1a1a" stroke-width="0.87" stroke-linecap="round"/>
<path d="M105.53 369.04L105.53 371.16M104.61 369.57L106.44 370.63M104.61 370.63L106.44 369.57" stroke="#1a1a1a" stroke-width="0.87" stroke-linecap="round"/>
<path d="M124 377.8V373.6H138.2V377.8" stroke="#151515" stroke-width="1" fill="none"/>
<path d="M125.92 369.04L125.92 371.16M125.01 369.57L126.84 370.63M125.01 370.63L126.84 369.57" stroke="#1a1a1a" stroke-width="0.87" stroke-linecap="round"/>
<path d="M129.38 369.04L129.38 371.16M128.46 369.57L130.29 370.63M128.46 370.63L130.29 369.57" stroke="#1a1a1a" stroke-width="0.87" stroke-linecap="round"/>
<path d="M132.82 369.04L132.82 371.16M131.91 369.57L133.74 370.63M131.91 370.63L133.74 369.57" stroke="#1a1a1a" stroke-width="0.87" stroke-linecap="round"/>
<path d="M136.28 369.04L136.28 371.16M135.36 369.57L137.19 370.63M135.36 370.63L137.19 369.57" stroke="#1a1a1a" stroke-width="0.87" stroke-linecap="round"/>
<path d="M140.4 377.8V373.6H167.7V377.8" stroke="#151515" stroke-width="1" fill="none"/>
<path d="M148.88 369.04L148.88 371.16M147.96 369.57L149.79 370.63M147.96 370.63L149.79 369.57" stroke="#1a1a1a" stroke-width="0.87" stroke-linecap="round"/>
<path d="M152.32 369.04L152.32 371.16M151.41 369.57L153.24 370.63M151.41 370.63L153.24 369.57" stroke="#1a1a1a" stroke-width="0.87" stroke-linecap="round"/>
<path d="M155.78 369.04L155.78 371.16M154.86 369.57L156.69 370.63M154.86 370.63L156.69 369.57" stroke="#1a1a1a" stroke-width="0.87" stroke-linecap="round"/>
<path d="M159.22 369.04L159.22 371.16M158.31 369.57L160.14 370.63M158.31 370.63L160.14 369.57" stroke="#1a1a1a" stroke-width="0.87" stroke-linecap="round"/>
<path d="M67.6 453.9V433.7H77V453.9" stroke="#2c3d5e" stroke-width="0.95" fill="none"/>
<path d="M81.5 453.9V417.5H90.4V453.9" stroke="#2c3d5e" stroke-width="0.95" fill="none"/>
<path d="M95.5 453.9V434H104.6V453.9" stroke="#b59d70" stroke-width="0.95" fill="none"/>
<path d="M109.5 453.9V436H118.7V453.9" stroke="#b59d70" stroke-width="0.95" fill="none"/>
<path d="M123.3 453.9V433.7H132.4V453.9" stroke="#2c3d5e" stroke-width="0.95" fill="none"/>
<path d="M137.7 453.9V412.4H146.4V453.9" stroke="#2c3d5e" stroke-width="0.95" fill="none"/>
<path d="M151.3 453.9V430.6H160.4V453.9" stroke="#5d6f62" stroke-width="0.95" fill="none"/>
<path d="M165.2 453.9V433.3H174.3V453.9" stroke="#5d6f62" stroke-width="0.95" fill="none"/>
<circle cx="70.6" cy="434.5" r="1.5" fill="#fff" stroke="#2c3d5e" stroke-width="0.85"/>
<circle cx="74" cy="434.5" r="1.5" fill="#fff" stroke="#2c3d5e" stroke-width="0.85"/>
<line x1="86" y1="413" x2="86" y2="422" stroke="#2c3d5e" stroke-width="1"/>
<line x1="83" y1="413" x2="89" y2="413" stroke="#2c3d5e" stroke-width="1"/>
<line x1="83" y1="422" x2="89" y2="422" stroke="#2c3d5e" stroke-width="1"/>
<circle cx="86.2" cy="401.5" r="1.6" fill="#1f3155"/>
<circle cx="88.3" cy="407.3" r="1.6" fill="#1f3155"/>
<circle cx="83.2" cy="413.6" r="1.6" fill="#1f3155"/>
<circle cx="88.5" cy="416.9" r="1.6" fill="#1f3155"/>
<circle cx="85.1" cy="418.5" r="1.6" fill="#1f3155"/>
<circle cx="88.5" cy="420.3" r="1.6" fill="#1f3155"/>
<circle cx="82.5" cy="421.6" r="1.6" fill="#1f3155"/>
<circle cx="85" cy="424.5" r="1.6" fill="#1f3155"/>
<circle cx="87.4" cy="426.3" r="1.6" fill="#1f3155"/>
<circle cx="86.6" cy="422.6" r="1.6" fill="#1f3155"/>
<circle cx="100" cy="425.5" r="1.45" fill="#fff" stroke="#e39a1c" stroke-width="0.85"/>
<circle cx="100" cy="430" r="1.45" fill="#fff" stroke="#e39a1c" stroke-width="0.85"/>
<circle cx="98.3" cy="433.5" r="1.45" fill="#fff" stroke="#e39a1c" stroke-width="0.85"/>
<circle cx="101.7" cy="433.5" r="1.45" fill="#fff" stroke="#e39a1c" stroke-width="0.85"/>
<circle cx="100" cy="437" r="1.45" fill="#fff" stroke="#e39a1c" stroke-width="0.85"/>
<circle cx="98.3" cy="440.5" r="1.45" fill="#fff" stroke="#e39a1c" stroke-width="0.85"/>
<circle cx="101.7" cy="440.5" r="1.45" fill="#fff" stroke="#e39a1c" stroke-width="0.85"/>
<circle cx="100" cy="443" r="1.45" fill="#fff" stroke="#e39a1c" stroke-width="0.85"/>
<circle cx="100" cy="433.5" r="1.2" fill="#e39a1c"/>
<circle cx="98.5" cy="437" r="1.2" fill="#e39a1c"/>
<circle cx="116.8" cy="428.6" r="1.6" fill="#e39a1c"/>
<circle cx="111.5" cy="431.9" r="1.6" fill="#e39a1c"/>
<circle cx="114.8" cy="432.8" r="1.6" fill="#e39a1c"/>
<circle cx="113.4" cy="435" r="1.6" fill="#e39a1c"/>
<circle cx="116.2" cy="436.5" r="1.6" fill="#e39a1c"/>
<circle cx="112.8" cy="438.7" r="1.6" fill="#e39a1c"/>
<circle cx="115" cy="437.5" r="1.6" fill="#e39a1c"/>
<circle cx="113.4" cy="446.6" r="1.6" fill="#e39a1c"/>
<circle cx="126.3" cy="434.5" r="1.5" fill="#fff" stroke="#2c3d5e" stroke-width="0.85"/>
<circle cx="129.7" cy="434.5" r="1.5" fill="#fff" stroke="#2c3d5e" stroke-width="0.85"/>
<circle cx="142" cy="390.7" r="1.6" fill="#1f3155"/>
<circle cx="142" cy="405.5" r="1.6" fill="#1f3155"/>
<circle cx="140" cy="408" r="1.6" fill="#1f3155"/>
<circle cx="143.5" cy="409" r="1.6" fill="#1f3155"/>
<circle cx="139.6" cy="414.4" r="1.6" fill="#1f3155"/>
<circle cx="144.8" cy="419.3" r="1.6" fill="#1f3155"/>
<circle cx="141.8" cy="424" r="1.6" fill="#1f3155"/>
<circle cx="141.4" cy="428.7" r="1.6" fill="#1f3155"/>
<circle cx="144.5" cy="415.5" r="1.6" fill="#1f3155"/>
<line x1="142" y1="410.2" x2="142" y2="418" stroke="#2c3d5e" stroke-width="1"/>
<line x1="139" y1="410.2" x2="145" y2="410.2" stroke="#2c3d5e" stroke-width="1"/>
<line x1="139" y1="418" x2="145" y2="418" stroke="#2c3d5e" stroke-width="1"/>
<circle cx="151.6" cy="427.8" r="1.45" fill="#fff" stroke="#2c5f46" stroke-width="0.85"/>
<circle cx="159.4" cy="426.3" r="1.45" fill="#fff" stroke="#2c5f46" stroke-width="0.85"/>
<circle cx="154" cy="431.5" r="1.45" fill="#fff" stroke="#2c5f46" stroke-width="0.85"/>
<circle cx="157.5" cy="431" r="1.45" fill="#fff" stroke="#2c5f46" stroke-width="0.85"/>
<circle cx="154" cy="437.4" r="1.45" fill="#fff" stroke="#2c5f46" stroke-width="0.85"/>
<circle cx="157.1" cy="436" r="1.45" fill="#fff" stroke="#2c5f46" stroke-width="0.85"/>
<circle cx="155.5" cy="433.5" r="1.2" fill="#2c5f46"/>
<circle cx="152.8" cy="433.5" r="1.2" fill="#2c5f46"/>
<circle cx="158.7" cy="433.8" r="1.2" fill="#2c5f46"/>
<circle cx="169.8" cy="427.2" r="1.6" fill="#2c5f46"/>
<circle cx="168.3" cy="431.2" r="1.6" fill="#2c5f46"/>
<circle cx="170.5" cy="432.5" r="1.6" fill="#2c5f46"/>
<circle cx="172.4" cy="433.5" r="1.6" fill="#2c5f46"/>
<circle cx="167.6" cy="435.6" r="1.6" fill="#2c5f46"/>
<circle cx="168.2" cy="438.4" r="1.6" fill="#2c5f46"/>
<circle cx="171.6" cy="438.4" r="1.6" fill="#2c5f46"/>
<text x="56.3" y="472.4" font-size="8.1" text-anchor="end" textLength="25.2" lengthAdjust="spacingAndGlyphs">NHIgG</text>
<text x="56.3" y="487" font-size="8.1" text-anchor="end" textLength="13.2" lengthAdjust="spacingAndGlyphs">aPL</text>
<line x1="68.9" y1="469.8" x2="72.7" y2="469.8" stroke="#333" stroke-width="0.85"/>
<line x1="70.8" y1="467.9" x2="70.8" y2="471.7" stroke="#333" stroke-width="0.85"/>
<line x1="69.7" y1="484.8" x2="71.9" y2="484.8" stroke="#444" stroke-width="0.85"/>
<line x1="84" y1="469.8" x2="86.2" y2="469.8" stroke="#444" stroke-width="0.85"/>
<line x1="83.2" y1="484.8" x2="87" y2="484.8" stroke="#333" stroke-width="0.85"/>
<line x1="85.1" y1="482.9" x2="85.1" y2="486.7" stroke="#333" stroke-width="0.85"/>
<line x1="97.4" y1="469.8" x2="101.2" y2="469.8" stroke="#333" stroke-width="0.85"/>
<line x1="99.3" y1="467.9" x2="99.3" y2="471.7" stroke="#333" stroke-width="0.85"/>
<line x1="98.2" y1="484.8" x2="100.4" y2="484.8" stroke="#444" stroke-width="0.85"/>
<line x1="112.4" y1="469.8" x2="114.6" y2="469.8" stroke="#444" stroke-width="0.85"/>
<line x1="111.6" y1="484.8" x2="115.4" y2="484.8" stroke="#333" stroke-width="0.85"/>
<line x1="113.5" y1="482.9" x2="113.5" y2="486.7" stroke="#333" stroke-width="0.85"/>
<line x1="125.3" y1="469.8" x2="129.1" y2="469.8" stroke="#333" stroke-width="0.85"/>
<line x1="127.2" y1="467.9" x2="127.2" y2="471.7" stroke="#333" stroke-width="0.85"/>
<line x1="126.1" y1="484.8" x2="128.3" y2="484.8" stroke="#444" stroke-width="0.85"/>
<line x1="140.1" y1="469.8" x2="142.3" y2="469.8" stroke="#444" stroke-width="0.85"/>
<line x1="139.3" y1="484.8" x2="143.1" y2="484.8" stroke="#333" stroke-width="0.85"/>
<line x1="141.2" y1="482.9" x2="141.2" y2="486.7" stroke="#333" stroke-width="0.85"/>
<line x1="153.6" y1="469.8" x2="157.4" y2="469.8" stroke="#333" stroke-width="0.85"/>
<line x1="155.5" y1="467.9" x2="155.5" y2="471.7" stroke="#333" stroke-width="0.85"/>
<line x1="154.4" y1="484.8" x2="156.6" y2="484.8" stroke="#444" stroke-width="0.85"/>
<line x1="168.3" y1="469.8" x2="170.5" y2="469.8" stroke="#444" stroke-width="0.85"/>
<line x1="167.5" y1="484.8" x2="171.3" y2="484.8" stroke="#333" stroke-width="0.85"/>
<line x1="169.4" y1="482.9" x2="169.4" y2="486.7" stroke="#333" stroke-width="0.85"/>
<text x="0" y="0" font-size="10.48" font-weight="bold" fill="#000" stroke="#000" stroke-width="0.35" transform="translate(206.31 348.41) scale(0.981 1)">F</text>
<text x="245.2" y="360" font-size="8.3" textLength="25.6" lengthAdjust="spacingAndGlyphs">NHIgG</text>
<text x="322.7" y="359.9" font-size="8.3" textLength="13.1" lengthAdjust="spacingAndGlyphs">aPL</text>
<text x="404.8" y="357.1" font-size="8.3" textLength="25.6" lengthAdjust="spacingAndGlyphs">NHIgG</text>
<text x="475.4" y="357.1" font-size="8.3" textLength="12.6" lengthAdjust="spacingAndGlyphs">aPL</text>
<text x="209.8" y="393.3" font-size="8.1" textLength="12.5" lengthAdjust="spacingAndGlyphs">WT</text>
<text x="209.8" y="452" font-size="8.1" textLength="12.4" lengthAdjust="spacingAndGlyphs">EIG</text>
<text x="370.8" y="400" font-size="8.1" textLength="8.1" lengthAdjust="spacingAndGlyphs">FL</text>
<text x="368.1" y="458.8" font-size="8.1" textLength="14" lengthAdjust="spacingAndGlyphs">Δ19</text>
<g clip-path="url(#cp5)">
<rect x="225" y="364" width="66" height="53.5" fill="#2b4a14"/>
<polygon points="225,364 237,364 238,374 237,386 225,388" fill="#78da3c" filter="url(#b1_2)"/>
<polygon points="258,364 291,364 291,383 275,381 261,379 258,372" fill="#80e840" filter="url(#b1_2)"/>
<polygon points="261,379 291,383 291,391 270,385" fill="#4a8a24" filter="url(#b1_5)"/>
<polygon points="225,401 255,401 291,406 291,417.5 225,417.5" fill="#70d038" filter="url(#b1_5)"/>
<rect x="225" y="364" width="66" height="53.5" filter="url(#tex)" style="mix-blend-mode:overlay" opacity="0.22"/>
<rect x="249.5" y="410.5" width="6.5" height="1.4" fill="#f4f4e8"/>
</g>
<rect x="225.35" y="364.35" width="65.3" height="52.8" fill="none" stroke="#0e1408" stroke-width="1.3"/>
<g clip-path="url(#cp6)">
<rect x="296" y="364" width="65" height="53.5" fill="#2c5014"/>
<polygon points="296,364 338,364 326,369 308,377 296,382" fill="#7ade3c" filter="url(#b1_2)"/>
<polygon points="338,364 361,364 361,384 351,380" fill="#34581a" filter="url(#b1_5)"/>
<polygon points="296,404 326,396 361,383 361,417.5 296,417.5" fill="#86ea40" filter="url(#b1_2)"/>
<ellipse cx="316" cy="387" rx="4.6" ry="4" fill="#8cec44" filter="url(#b1)"/>
<ellipse cx="321" cy="392.5" rx="3" ry="3.2" fill="#80e03e" filter="url(#b1)"/>
<ellipse cx="333.5" cy="379" rx="4.6" ry="4" fill="#8cec44" filter="url(#b1)"/>
<ellipse cx="339" cy="383.5" rx="5" ry="5" fill="#8cec44" filter="url(#b1)"/>
<ellipse cx="332" cy="385" rx="2.6" ry="2.6" fill="#7cd83c" filter="url(#b1)"/>
<ellipse cx="309.5" cy="394" rx="2.4" ry="2.8" fill="#6cc034" filter="url(#b1)"/>
<rect x="296" y="364" width="65" height="53.5" filter="url(#tex)" style="mix-blend-mode:overlay" opacity="0.22"/>
<rect x="349.5" y="410" width="6.2" height="1.4" fill="#f4f4e8"/>
</g>
<rect x="296.35" y="364.35" width="64.3" height="52.8" fill="none" stroke="#0e1408" stroke-width="1.3"/>
<g clip-path="url(#cp7)">
<rect x="225" y="423" width="66" height="53.4" fill="#62c434"/>
<polygon points="253,423 291,423 291,435 275,432 261,427" fill="#4a8a2a" filter="url(#b2_5)"/>
<polygon points="225,423 236,423 250,434 267,442.5 291,446.5 291,456.5 277,456.5 274,460 274,476.4 262,476.4 260,464 253,453.5 240,443 225,437.5" fill="#1e3a0e" filter="url(#b1_3)"/>
<path d="M237 422.5 L250.5 432.5 L267 441 L291 444.8" stroke="#86e646" stroke-width="2.4" fill="none" opacity="0.6" filter="url(#b0_9)"/>
<path d="M225 439.2 L239.5 444.8 L252 455 L258.6 465 L260.5 476.4" stroke="#86e646" stroke-width="2.4" fill="none" opacity="0.6" filter="url(#b0_9)"/>
<rect x="225" y="423" width="66" height="53.4" filter="url(#tex)" style="mix-blend-mode:overlay" opacity="0.4"/>
<rect x="251" y="469" width="6.5" height="1.4" fill="#f4f4e8"/>
</g>
<rect x="225.35" y="423.35" width="65.3" height="52.7" fill="none" stroke="#0e1408" stroke-width="1.3"/>
<g clip-path="url(#cp8)">
<rect x="296" y="423" width="65" height="53.4" fill="#1f3410"/>
<polygon points="296,423 343,423 326,430 312,439 296,441.5" fill="#5aa830" filter="url(#b1_3)"/>
<polygon points="320,443 340,435 361,426 361,459 350,458 334,451" fill="#52a02c" filter="url(#b1_3)"/>
<polygon points="296,453.5 308,456 326,464 348,476.4 296,476.4" fill="#4e9a2a" filter="url(#b1_3)"/>
<path d="M297 438.5 L316 433 L343.4 423" stroke="#86e646" stroke-width="2.4" fill="none" opacity="0.6" filter="url(#b0_9)"/>
<path d="M321.5 442.2 L340 433.2 L360.4 426.2" stroke="#80e044" stroke-width="2.2" fill="none" opacity="0.55" filter="url(#b0_9)"/>
<path d="M321.5 444.2 L334 451.6 L360.4 458.8" stroke="#86e646" stroke-width="2.4" fill="none" opacity="0.6" filter="url(#b0_9)"/>
<path d="M297 455 L308 457.5 L327.7 465.5 L346 476.4" stroke="#80e044" stroke-width="2.2" fill="none" opacity="0.55" filter="url(#b0_9)"/>
<rect x="296" y="423" width="65" height="53.4" filter="url(#tex)" style="mix-blend-mode:overlay" opacity="0.4"/>
<rect x="348.5" y="471" width="6.3" height="1.4" fill="#f4f4e8"/>
</g>
<rect x="296.35" y="423.35" width="64.3" height="52.7" fill="none" stroke="#0e1408" stroke-width="1.3"/>
<g clip-path="url(#cp9)">
<rect x="387.5" y="361.3" width="59.5" height="58.5" fill="#33491a"/>
<polygon points="387.5,361.3 401.5,361.3 409.5,391.3 417.5,419.8 387.5,419.8" fill="#3a561c" filter="url(#b3)"/>
<polygon points="415.5,361.3 447,361.3 447,419.8 431.5,419.8 421.5,389.3" fill="#374e1a" filter="url(#b3)"/>
<path d="M391 364.3 L397.5 378.3 L403.5 391.7" stroke="#64902e" stroke-width="2.2" fill="none" opacity="0.85" filter="url(#b1_0)"/>
<path d="M388.5 375.3 L395.5 387.3 L399.5 394.3" stroke="#56802a" stroke-width="1.6" fill="none" opacity="0.7" filter="url(#b1_0)"/>
<path d="M408.5 364.3 L417.5 385.3 L427.3 408 L431.5 416.3" stroke="#567e28" stroke-width="2.6" fill="none" opacity="0.8" filter="url(#b1_2)"/>
<path d="M399.8 404.3 L411 408 L418.5 416.8" stroke="#64902e" stroke-width="2.4" fill="none" opacity="0.85" filter="url(#b1_0)"/>
<path d="M389.5 393.3 L393.5 405.3 L397.5 416.3" stroke="#527a28" stroke-width="1.6" fill="none" opacity="0.6" filter="url(#b1_0)"/>
<rect x="387.5" y="361.3" width="59.5" height="58.5" filter="url(#tex)" style="mix-blend-mode:overlay" opacity="0.2"/>
<rect x="435.5" y="415.3" width="7.5" height="1.4" fill="#f4f4e8"/>
</g>
<rect x="387.85" y="361.65" width="58.8" height="57.8" fill="none" stroke="#0e1408" stroke-width="1.3"/>
<g clip-path="url(#cp10)">
<rect x="452.5" y="361.3" width="59.5" height="58.5" fill="#30481a"/>
<polygon points="452.5,361.3 512,361.3 512,371.3 492.5,371.3 477.5,375.3 462.5,381.3 452.5,383.3" fill="#2e4414" filter="url(#b2)"/>
<polygon points="456.5,379.3 464.5,379.3 466.5,401.3 458.5,403.3" fill="#1f3410" filter="url(#b2)"/>
<polygon points="464,382.8 475,378.3 487.5,374.3 501.5,372.3 509.5,371.3 509.5,379.3 502.5,383.8 494.5,389.8 487.4,392.7 480.1,394.8 475.2,395.8 470.5,389.3 464.5,385.3" fill="#a8f236" filter="url(#b1_1)"/>
<polygon points="452.5,383.3 456,383.3 456.5,397.3 452.5,397.3" fill="#9ce434" filter="url(#b0_9)"/>
<polygon points="452.5,401.3 512,393.3 512,419.8 452.5,419.8" fill="#30481a" filter="url(#b3)"/>
<rect x="452.5" y="361.3" width="59.5" height="58.5" filter="url(#tex)" style="mix-blend-mode:overlay" opacity="0.12"/>
<rect x="501" y="414.8" width="7.5" height="1.4" fill="#f4f4e8"/>
</g>
<rect x="452.85" y="361.65" width="58.8" height="57.8" fill="none" stroke="#0e1408" stroke-width="1.3"/>
<g clip-path="url(#cp11)">
<rect x="387.5" y="426" width="60" height="53.6" fill="#6aa832"/>
<polygon points="387.5,426 447.5,426 447.5,434 387.5,461" fill="#70ae34" filter="url(#b2)"/>
<path d="M387.5 464.5 L404.5 454.5 L422.5 443.5 L447.5 431.5" stroke="#9ada44" stroke-width="2.2" fill="none" opacity="0.8" filter="url(#b0_9)"/>
<polygon points="387.5,465 404.5,455 422.5,444 447.5,432 447.5,452 427.5,463 404.5,477 387.5,479.6" fill="#1e320c" filter="url(#b1_2)"/>
<polygon points="404.5,479.6 427.5,466 447.5,454 447.5,479.6" fill="#7ab434" filter="url(#b1_5)"/>
<rect x="387.5" y="426" width="60" height="53.6" filter="url(#tex)" style="mix-blend-mode:overlay" opacity="0.22"/>
<rect x="436" y="475.5" width="7" height="1.4" fill="#f4f4e8"/>
</g>
<rect x="387.85" y="426.35" width="59.3" height="52.9" fill="none" stroke="#0e1408" stroke-width="1.3"/>
<g clip-path="url(#cp12)">
<rect x="453" y="426" width="60" height="53.6" fill="#426a1a"/>
<polygon points="453,426 474,426 472,441 461,453 453,456" fill="#446c1a" filter="url(#b2)"/>
<polygon points="474,426 483,426 482,444 483,450 477,459 465,460" fill="#283e10" filter="url(#b2)"/>
<polygon points="481,446 495,436 513,428 513,436 499,442 485,452" fill="#2a4210" filter="url(#b2)"/>
<polygon points="485,454 499,444 513,437 513,457 487,458" fill="#4c7c22" filter="url(#b2_5)"/>
<polygon points="453,458 513,457 513,466 453,467" fill="#263a0e" filter="url(#b2)"/>
<polygon points="453,468 513,466 513,479.6 453,479.6" fill="#4a7a22" filter="url(#b2)"/>
<rect x="453" y="426" width="60" height="53.6" filter="url(#tex)" style="mix-blend-mode:overlay" opacity="0.18"/>
<rect x="501.5" y="475.5" width="7" height="1.4" fill="#f4f4e8"/>
</g>
<rect x="453.35" y="426.35" width="59.3" height="52.9" fill="none" stroke="#0e1408" stroke-width="1.3"/>
<rect x="463" y="473.5" width="4" height="1.3" fill="#e8f0d0" opacity="0.8"/>
<text x="0" y="0" font-size="10.04" font-weight="bold" fill="#000" stroke="#000" stroke-width="0.35" transform="translate(7.42 514.31) scale(1.167 1)">G</text>
<line x1="62.9" y1="541.6" x2="62.9" y2="622.1" stroke="#151515" stroke-width="1.75"/>
<line x1="59.9" y1="621.6" x2="62.9" y2="621.6" stroke="#151515" stroke-width="1.1"/>
<text x="56.5" y="624.5" font-size="8.2" text-anchor="end">0</text>
<line x1="59.9" y1="606.04" x2="62.9" y2="606.04" stroke="#151515" stroke-width="1.1"/>
<text x="56.5" y="608.94" font-size="8.2" text-anchor="end">20</text>
<line x1="59.9" y1="590.48" x2="62.9" y2="590.48" stroke="#151515" stroke-width="1.1"/>
<text x="56.5" y="593.38" font-size="8.2" text-anchor="end">40</text>
<line x1="59.9" y1="574.92" x2="62.9" y2="574.92" stroke="#151515" stroke-width="1.1"/>
<text x="56.5" y="577.82" font-size="8.2" text-anchor="end">60</text>
<line x1="59.9" y1="559.36" x2="62.9" y2="559.36" stroke="#151515" stroke-width="1.1"/>
<text x="56.5" y="562.26" font-size="8.2" text-anchor="end">80</text>
<line x1="59.9" y1="543.8" x2="62.9" y2="543.8" stroke="#151515" stroke-width="1.1"/>
<text x="56.5" y="546.7" font-size="8.2" text-anchor="end">100</text>
<line x1="62" y1="621.6" x2="180" y2="621.6" stroke="#151515" stroke-width="1.4"/>
<text x="0" y="0" font-size="10.2" text-anchor="middle" textLength="62.4" lengthAdjust="spacingAndGlyphs" transform="translate(25.3 579.1) rotate(-90)">Largest thrombus</text>
<g transform="translate(36.8 579.7) rotate(-90)"><text x="0" y="0" font-size="10.2" text-anchor="middle" fill="#2a2a2a" textLength="39.4" lengthAdjust="spacingAndGlyphs">(μm<tspan font-size="7" dy="-3.4">2</tspan><tspan dy="3.4">x10</tspan><tspan font-size="7" dy="-3.4">3</tspan><tspan dy="3.4">)</tspan></text></g>
<text x="69.5" y="525.6" font-size="8.3" textLength="12.4" lengthAdjust="spacingAndGlyphs">WT</text>
<line x1="67" y1="528.7" x2="84.6" y2="528.7" stroke="#1a1a1a" stroke-width="1.3"/>
<text x="101" y="525.6" font-size="8.3" textLength="12.7" lengthAdjust="spacingAndGlyphs">EIG</text>
<line x1="98.6" y1="528.7" x2="116" y2="528.7" stroke="#1a1a1a" stroke-width="1.3"/>
<text x="130.6" y="525.6" font-size="8.3" textLength="8" lengthAdjust="spacingAndGlyphs">FL</text>
<line x1="125.8" y1="528.7" x2="143.7" y2="528.7" stroke="#1a1a1a" stroke-width="1.3"/>
<text x="154.6" y="525.6" font-size="8.3" textLength="14.9" lengthAdjust="spacingAndGlyphs">Δ19</text>
<line x1="153.7" y1="528.7" x2="171" y2="528.7" stroke="#1a1a1a" stroke-width="1.3"/>
<path d="M71.3 545.5V542H85.5V545.5" stroke="#151515" stroke-width="1" fill="none"/>
<path d="M73.23 537.04L73.23 539.16M72.31 537.57L74.14 538.63M72.31 538.63L74.14 537.57" stroke="#1a1a1a" stroke-width="0.87" stroke-linecap="round"/>
<path d="M76.68 537.04L76.68 539.16M75.76 537.57L77.59 538.63M75.76 538.63L77.59 537.57" stroke="#1a1a1a" stroke-width="0.87" stroke-linecap="round"/>
<path d="M80.13 537.04L80.13 539.16M79.21 537.57L81.04 538.63M79.21 538.63L81.04 537.57" stroke="#1a1a1a" stroke-width="0.87" stroke-linecap="round"/>
<path d="M83.58 537.04L83.58 539.16M82.66 537.57L84.49 538.63M82.66 538.63L84.49 537.57" stroke="#1a1a1a" stroke-width="0.87" stroke-linecap="round"/>
<path d="M89.1 545.5V542H115.6V545.5" stroke="#151515" stroke-width="1" fill="none"/>
<path d="M97.17 537.04L97.17 539.16M96.26 537.57L98.09 538.63M96.26 538.63L98.09 537.57" stroke="#1a1a1a" stroke-width="0.87" stroke-linecap="round"/>
<path d="M100.62 537.04L100.62 539.16M99.71 537.57L101.54 538.63M99.71 538.63L101.54 537.57" stroke="#1a1a1a" stroke-width="0.87" stroke-linecap="round"/>
<path d="M104.08 537.04L104.08 539.16M103.16 537.57L104.99 538.63M103.16 538.63L104.99 537.57" stroke="#1a1a1a" stroke-width="0.87" stroke-linecap="round"/>
<path d="M107.53 537.04L107.53 539.16M106.61 537.57L108.44 538.63M106.61 538.63L108.44 537.57" stroke="#1a1a1a" stroke-width="0.87" stroke-linecap="round"/>
<path d="M125.5 545.5V542H139.7V545.5" stroke="#151515" stroke-width="1" fill="none"/>
<path d="M127.42 537.04L127.42 539.16M126.51 537.57L128.34 538.63M126.51 538.63L128.34 537.57" stroke="#1a1a1a" stroke-width="0.87" stroke-linecap="round"/>
<path d="M130.88 537.04L130.88 539.16M129.96 537.57L131.79 538.63M129.96 538.63L131.79 537.57" stroke="#1a1a1a" stroke-width="0.87" stroke-linecap="round"/>
<path d="M134.32 537.04L134.32 539.16M133.41 537.57L135.24 538.63M133.41 538.63L135.24 537.57" stroke="#1a1a1a" stroke-width="0.87" stroke-linecap="round"/>
<path d="M137.78 537.04L137.78 539.16M136.86 537.57L138.69 538.63M136.86 538.63L138.69 537.57" stroke="#1a1a1a" stroke-width="0.87" stroke-linecap="round"/>
<path d="M142.2 545.5V542H169.2V545.5" stroke="#151515" stroke-width="1" fill="none"/>
<path d="M150.52 537.04L150.52 539.16M149.61 537.57L151.44 538.63M149.61 538.63L151.44 537.57" stroke="#1a1a1a" stroke-width="0.87" stroke-linecap="round"/>
<path d="M153.97 537.04L153.97 539.16M153.06 537.57L154.89 538.63M153.06 538.63L154.89 537.57" stroke="#1a1a1a" stroke-width="0.87" stroke-linecap="round"/>
<path d="M157.42 537.04L157.42 539.16M156.51 537.57L158.34 538.63M156.51 538.63L158.34 537.57" stroke="#1a1a1a" stroke-width="0.87" stroke-linecap="round"/>
<path d="M160.87 537.04L160.87 539.16M159.96 537.57L161.79 538.63M159.96 538.63L161.79 537.57" stroke="#1a1a1a" stroke-width="0.87" stroke-linecap="round"/>
<path d="M81.9 621.6V578.8H90V621.6" stroke="#2c3d5e" stroke-width="0.95" fill="none"/>
<path d="M137.7 621.6V590.2H146.8V621.6" stroke="#2c3d5e" stroke-width="0.95" fill="none"/>
<line x1="86" y1="573.5" x2="86" y2="585" stroke="#2c3d5e" stroke-width="1"/>
<line x1="83" y1="573.5" x2="89" y2="573.5" stroke="#2c3d5e" stroke-width="1"/>
<line x1="83" y1="585" x2="89" y2="585" stroke="#2c3d5e" stroke-width="1"/>
<line x1="142.2" y1="585.5" x2="142.2" y2="593.6" stroke="#2c3d5e" stroke-width="1"/>
<line x1="139.2" y1="585.5" x2="145.2" y2="585.5" stroke="#2c3d5e" stroke-width="1"/>
<line x1="139.2" y1="593.6" x2="145.2" y2="593.6" stroke="#2c3d5e" stroke-width="1"/>
<circle cx="70.5" cy="620.8" r="1.5" fill="#fff" stroke="#2c3d5e" stroke-width="0.85"/>
<circle cx="73.5" cy="620.8" r="1.5" fill="#fff" stroke="#2c3d5e" stroke-width="0.85"/>
<circle cx="86.2" cy="560.5" r="1.6" fill="#1f3155"/>
<circle cx="83.7" cy="568.6" r="1.6" fill="#1f3155"/>
<circle cx="88.5" cy="568.6" r="1.6" fill="#1f3155"/>
<circle cx="83.7" cy="575" r="1.6" fill="#1f3155"/>
<circle cx="86.8" cy="576.5" r="1.6" fill="#1f3155"/>
<circle cx="88.3" cy="577.7" r="1.6" fill="#1f3155"/>
<circle cx="85.5" cy="580.8" r="1.6" fill="#1f3155"/>
<circle cx="83.3" cy="587.4" r="1.6" fill="#1f3155"/>
<circle cx="88.6" cy="589.3" r="1.6" fill="#1f3155"/>
<circle cx="86.3" cy="595.6" r="1.6" fill="#1f3155"/>
<circle cx="87.7" cy="582.8" r="1.6" fill="#1f3155"/>
<circle cx="98.8" cy="618.6" r="1.45" fill="#fff" stroke="#a3173f" stroke-width="0.85"/>
<circle cx="101.2" cy="620.8" r="1.45" fill="#fff" stroke="#a3173f" stroke-width="0.85"/>
<circle cx="104.3" cy="620.6" r="1.45" fill="#fff" stroke="#a3173f" stroke-width="0.85"/>
<circle cx="111.6" cy="620.9" r="1.6" fill="#a3173f"/>
<circle cx="114.5" cy="620.9" r="1.6" fill="#a3173f"/>
<line x1="110" y1="621" x2="116" y2="621" stroke="#a3173f" stroke-width="1.5"/>
<circle cx="126" cy="620.8" r="1.5" fill="#fff" stroke="#2c3d5e" stroke-width="0.85"/>
<circle cx="129" cy="620.8" r="1.5" fill="#fff" stroke="#2c3d5e" stroke-width="0.85"/>
<circle cx="142" cy="574.8" r="1.6" fill="#1f3155"/>
<circle cx="140.7" cy="579.6" r="1.6" fill="#1f3155"/>
<circle cx="143.3" cy="579.6" r="1.6" fill="#1f3155"/>
<circle cx="141.7" cy="581.2" r="1.6" fill="#1f3155"/>
<circle cx="144.2" cy="580.5" r="1.6" fill="#1f3155"/>
<circle cx="139.8" cy="598" r="1.6" fill="#1f3155"/>
<circle cx="144.5" cy="602.5" r="1.6" fill="#1f3155"/>
<circle cx="141.9" cy="608.5" r="1.6" fill="#1f3155"/>
<circle cx="153.6" cy="620.8" r="1.5" fill="#fff" stroke="#4b1f55" stroke-width="0.85"/>
<circle cx="156.6" cy="620.8" r="1.5" fill="#fff" stroke="#4b1f55" stroke-width="0.85"/>
<circle cx="167.5" cy="621" r="1.6" fill="#4b1f55"/>
<circle cx="170.5" cy="621" r="1.6" fill="#4b1f55"/>
<line x1="165.5" y1="621" x2="172.5" y2="621" stroke="#4b1f55" stroke-width="1.6"/>
<text x="56.3" y="636" font-size="8.1" text-anchor="end" textLength="25.2" lengthAdjust="spacingAndGlyphs">NHIgG</text>
<text x="56.3" y="650.6" font-size="8.1" text-anchor="end" textLength="13.2" lengthAdjust="spacingAndGlyphs">aPL</text>
<line x1="69.4" y1="633.4" x2="73.2" y2="633.4" stroke="#333" stroke-width="0.85"/>
<line x1="71.3" y1="631.5" x2="71.3" y2="635.3" stroke="#333" stroke-width="0.85"/>
<line x1="70.2" y1="648.4" x2="72.4" y2="648.4" stroke="#444" stroke-width="0.85"/>
<line x1="84" y1="633.4" x2="86.2" y2="633.4" stroke="#444" stroke-width="0.85"/>
<line x1="83.2" y1="648.4" x2="87" y2="648.4" stroke="#333" stroke-width="0.85"/>
<line x1="85.1" y1="646.5" x2="85.1" y2="650.3" stroke="#333" stroke-width="0.85"/>
<line x1="97.3" y1="633.4" x2="101.1" y2="633.4" stroke="#333" stroke-width="0.85"/>
<line x1="99.2" y1="631.5" x2="99.2" y2="635.3" stroke="#333" stroke-width="0.85"/>
<line x1="98.1" y1="648.4" x2="100.3" y2="648.4" stroke="#444" stroke-width="0.85"/>
<line x1="112.1" y1="633.4" x2="114.3" y2="633.4" stroke="#444" stroke-width="0.85"/>
<line x1="111.3" y1="648.4" x2="115.1" y2="648.4" stroke="#333" stroke-width="0.85"/>
<line x1="113.2" y1="646.5" x2="113.2" y2="650.3" stroke="#333" stroke-width="0.85"/>
<line x1="125.1" y1="633.4" x2="128.9" y2="633.4" stroke="#333" stroke-width="0.85"/>
<line x1="127" y1="631.5" x2="127" y2="635.3" stroke="#333" stroke-width="0.85"/>
<line x1="125.9" y1="648.4" x2="128.1" y2="648.4" stroke="#444" stroke-width="0.85"/>
<line x1="140.2" y1="633.4" x2="142.4" y2="633.4" stroke="#444" stroke-width="0.85"/>
<line x1="139.4" y1="648.4" x2="143.2" y2="648.4" stroke="#333" stroke-width="0.85"/>
<line x1="141.3" y1="646.5" x2="141.3" y2="650.3" stroke="#333" stroke-width="0.85"/>
<line x1="153.4" y1="633.4" x2="157.2" y2="633.4" stroke="#333" stroke-width="0.85"/>
<line x1="155.3" y1="631.5" x2="155.3" y2="635.3" stroke="#333" stroke-width="0.85"/>
<line x1="154.2" y1="648.4" x2="156.4" y2="648.4" stroke="#444" stroke-width="0.85"/>
<line x1="168.2" y1="633.4" x2="170.4" y2="633.4" stroke="#444" stroke-width="0.85"/>
<line x1="167.4" y1="648.4" x2="171.2" y2="648.4" stroke="#333" stroke-width="0.85"/>
<line x1="169.3" y1="646.5" x2="169.3" y2="650.3" stroke="#333" stroke-width="0.85"/>
<text x="0" y="0" font-size="10.33" font-weight="bold" fill="#000" stroke="#000" stroke-width="0.35" transform="translate(206.64 514.41) scale(1.104 1)">H</text>
<line x1="254.5" y1="541.6" x2="254.5" y2="622.1" stroke="#151515" stroke-width="1.75"/>
<line x1="251.5" y1="621.6" x2="254.5" y2="621.6" stroke="#151515" stroke-width="1.1"/>
<text x="248.3" y="624.5" font-size="8.2" text-anchor="end">0</text>
<line x1="251.5" y1="595.67" x2="254.5" y2="595.67" stroke="#151515" stroke-width="1.1"/>
<text x="248.3" y="598.57" font-size="8.2" text-anchor="end">10</text>
<line x1="251.5" y1="569.73" x2="254.5" y2="569.73" stroke="#151515" stroke-width="1.1"/>
<text x="248.3" y="572.63" font-size="8.2" text-anchor="end">20</text>
<line x1="251.5" y1="543.8" x2="254.5" y2="543.8" stroke="#151515" stroke-width="1.1"/>
<text x="248.3" y="546.7" font-size="8.2" text-anchor="end">30</text>
<line x1="253.8" y1="621.6" x2="370.5" y2="621.6" stroke="#151515" stroke-width="1.4"/>
<text x="0" y="0" font-size="10.4" text-anchor="middle" textLength="60" lengthAdjust="spacingAndGlyphs" transform="translate(222.5 582.3) rotate(-90)">Time to occlusion</text>
<text x="0" y="0" font-size="10.2" text-anchor="middle" textLength="18.5" lengthAdjust="spacingAndGlyphs" transform="translate(232.8 581.5) rotate(-90)">(min)</text>
<text x="263.7" y="527.5" font-size="8.3" textLength="12.8" lengthAdjust="spacingAndGlyphs">WT</text>
<line x1="261.4" y1="530.5" x2="278.6" y2="530.5" stroke="#1a1a1a" stroke-width="1.3"/>
<text x="290" y="527.5" font-size="8.3" textLength="12.6" lengthAdjust="spacingAndGlyphs">EIG</text>
<line x1="287.4" y1="530.5" x2="305" y2="530.5" stroke="#1a1a1a" stroke-width="1.3"/>
<text x="322.6" y="527.5" font-size="8.3" textLength="8.4" lengthAdjust="spacingAndGlyphs">FL</text>
<line x1="317.7" y1="530.5" x2="335.4" y2="530.5" stroke="#1a1a1a" stroke-width="1.3"/>
<text x="345.5" y="527.5" font-size="8.3" textLength="14" lengthAdjust="spacingAndGlyphs">Δ19</text>
<line x1="344.5" y1="530.5" x2="362.6" y2="530.5" stroke="#1a1a1a" stroke-width="1.3"/>
<path d="M263.2 547.4V543.7H276.8V547.4" stroke="#151515" stroke-width="1" fill="none"/>
<path d="M264.82 538.74L264.82 540.86M263.91 539.27L265.74 540.33M263.91 540.33L265.74 539.27" stroke="#1a1a1a" stroke-width="0.87" stroke-linecap="round"/>
<path d="M268.27 538.74L268.27 540.86M267.36 539.27L269.19 540.33M267.36 540.33L269.19 539.27" stroke="#1a1a1a" stroke-width="0.87" stroke-linecap="round"/>
<path d="M271.72 538.74L271.72 540.86M270.81 539.27L272.64 540.33M270.81 540.33L272.64 539.27" stroke="#1a1a1a" stroke-width="0.87" stroke-linecap="round"/>
<path d="M275.18 538.74L275.18 540.86M274.26 539.27L276.09 540.33M274.26 540.33L276.09 539.27" stroke="#1a1a1a" stroke-width="0.87" stroke-linecap="round"/>
<path d="M279.5 547.4V543.7H306.3V547.4" stroke="#151515" stroke-width="1" fill="none"/>
<path d="M287.72 538.74L287.72 540.86M286.81 539.27L288.64 540.33M286.81 540.33L288.64 539.27" stroke="#1a1a1a" stroke-width="0.87" stroke-linecap="round"/>
<path d="M291.17 538.74L291.17 540.86M290.26 539.27L292.09 540.33M290.26 540.33L292.09 539.27" stroke="#1a1a1a" stroke-width="0.87" stroke-linecap="round"/>
<path d="M294.62 538.74L294.62 540.86M293.71 539.27L295.54 540.33M293.71 540.33L295.54 539.27" stroke="#1a1a1a" stroke-width="0.87" stroke-linecap="round"/>
<path d="M298.07 538.74L298.07 540.86M297.16 539.27L298.99 540.33M297.16 540.33L298.99 539.27" stroke="#1a1a1a" stroke-width="0.87" stroke-linecap="round"/>
<path d="M320 547.4V543.7H333.5V547.4" stroke="#151515" stroke-width="1" fill="none"/>
<path d="M321.57 538.74L321.57 540.86M320.66 539.27L322.49 540.33M320.66 540.33L322.49 539.27" stroke="#1a1a1a" stroke-width="0.87" stroke-linecap="round"/>
<path d="M325.02 538.74L325.02 540.86M324.11 539.27L325.94 540.33M324.11 540.33L325.94 539.27" stroke="#1a1a1a" stroke-width="0.87" stroke-linecap="round"/>
<path d="M328.47 538.74L328.47 540.86M327.56 539.27L329.39 540.33M327.56 540.33L329.39 539.27" stroke="#1a1a1a" stroke-width="0.87" stroke-linecap="round"/>
<path d="M331.93 538.74L331.93 540.86M331.01 539.27L332.84 540.33M331.01 540.33L332.84 539.27" stroke="#1a1a1a" stroke-width="0.87" stroke-linecap="round"/>
<path d="M336.5 547.4V543.7H363.2V547.4" stroke="#151515" stroke-width="1" fill="none"/>
<path d="M344.68 538.74L344.68 540.86M343.76 539.27L345.59 540.33M343.76 540.33L345.59 539.27" stroke="#1a1a1a" stroke-width="0.87" stroke-linecap="round"/>
<path d="M348.12 538.74L348.12 540.86M347.21 539.27L349.04 540.33M347.21 540.33L349.04 539.27" stroke="#1a1a1a" stroke-width="0.87" stroke-linecap="round"/>
<path d="M351.57 538.74L351.57 540.86M350.66 539.27L352.49 540.33M350.66 540.33L352.49 539.27" stroke="#1a1a1a" stroke-width="0.87" stroke-linecap="round"/>
<path d="M355.03 538.74L355.03 540.86M354.11 539.27L355.94 540.33M354.11 540.33L355.94 539.27" stroke="#1a1a1a" stroke-width="0.87" stroke-linecap="round"/>
<path d="M259.5 621.6V557.7H268.6V621.6" stroke="#2c3d5e" stroke-width="0.95" fill="none"/>
<path d="M273.2 621.6V597.7H282.3V621.6" stroke="#2c3d5e" stroke-width="0.95" fill="none"/>
<path d="M287.7 621.6V557.7H296.5V621.6" stroke="#8a2444" stroke-width="0.95" fill="none"/>
<path d="M301.4 621.6V557.7H310.5V621.6" stroke="#8a2444" stroke-width="0.95" fill="none"/>
<path d="M315.4 621.6V560.5H324.5V621.6" stroke="#2c3d5e" stroke-width="0.95" fill="none"/>
<path d="M329.4 621.6V601.9H338.3V621.6" stroke="#2c3d5e" stroke-width="0.95" fill="none"/>
<path d="M343.7 621.6V557.7H352.3V621.6" stroke="#5a3a62" stroke-width="0.95" fill="none"/>
<path d="M357.7 621.6V562.3H366.5V621.6" stroke="#5a3a62" stroke-width="0.95" fill="none"/>
<circle cx="262.6" cy="557.3" r="1.5" fill="#fff" stroke="#2c3d5e" stroke-width="0.85"/>
<circle cx="265.6" cy="557.3" r="1.5" fill="#fff" stroke="#2c3d5e" stroke-width="0.85"/>
<circle cx="277.7" cy="584.3" r="1.6" fill="#1f3155"/>
<circle cx="275.2" cy="589.5" r="1.6" fill="#1f3155"/>
<circle cx="280.3" cy="587.8" r="1.6" fill="#1f3155"/>
<circle cx="276.6" cy="594.5" r="1.6" fill="#1f3155"/>
<circle cx="279.2" cy="593.4" r="1.6" fill="#1f3155"/>
<circle cx="277.3" cy="597" r="1.6" fill="#1f3155"/>
<circle cx="280.6" cy="597.6" r="1.6" fill="#1f3155"/>
<circle cx="275.5" cy="599.5" r="1.6" fill="#1f3155"/>
<circle cx="277.7" cy="602.5" r="1.6" fill="#1f3155"/>
<circle cx="277.7" cy="606.8" r="1.6" fill="#1f3155"/>
<line x1="277.8" y1="594" x2="277.8" y2="601" stroke="#2c3d5e" stroke-width="1"/>
<line x1="274.8" y1="594" x2="280.8" y2="594" stroke="#2c3d5e" stroke-width="1"/>
<line x1="274.8" y1="601" x2="280.8" y2="601" stroke="#2c3d5e" stroke-width="1"/>
<circle cx="290.6" cy="557.3" r="1.5" fill="#fff" stroke="#a3173f" stroke-width="0.85"/>
<circle cx="293.6" cy="557.3" r="1.5" fill="#fff" stroke="#a3173f" stroke-width="0.85"/>
<circle cx="304.4" cy="557.6" r="1.6" fill="#a3173f"/>
<circle cx="307.5" cy="557.6" r="1.6" fill="#a3173f"/>
<circle cx="305.9" cy="559.2" r="1.6" fill="#a3173f"/>
<line x1="303" y1="557.3" x2="309" y2="557.3" stroke="#a3173f" stroke-width="1.6"/>
<circle cx="318.4" cy="557.3" r="1.5" fill="#fff" stroke="#2c3d5e" stroke-width="0.85"/>
<circle cx="321.4" cy="557.3" r="1.5" fill="#fff" stroke="#2c3d5e" stroke-width="0.85"/>
<circle cx="319.9" cy="560.6" r="1.5" fill="#fff" stroke="#2c3d5e" stroke-width="0.85"/>
<circle cx="319.8" cy="568.5" r="1.5" fill="#fff" stroke="#2c3d5e" stroke-width="0.85"/>
<line x1="319.9" y1="558" x2="319.9" y2="563.5" stroke="#2c3d5e" stroke-width="1"/>
<line x1="316.9" y1="558" x2="322.9" y2="558" stroke="#2c3d5e" stroke-width="1"/>
<line x1="316.9" y1="563.5" x2="322.9" y2="563.5" stroke="#2c3d5e" stroke-width="1"/>
<circle cx="333.5" cy="590.6" r="1.6" fill="#1f3155"/>
<circle cx="329.5" cy="597.3" r="1.6" fill="#1f3155"/>
<circle cx="331.8" cy="599.3" r="1.6" fill="#1f3155"/>
<circle cx="334.5" cy="599.6" r="1.6" fill="#1f3155"/>
<circle cx="336.8" cy="599.8" r="1.6" fill="#1f3155"/>
<circle cx="333.2" cy="601.5" r="1.6" fill="#1f3155"/>
<circle cx="335.4" cy="602.5" r="1.6" fill="#1f3155"/>
<circle cx="346.6" cy="557.3" r="1.5" fill="#fff" stroke="#4b1f55" stroke-width="0.85"/>
<circle cx="349.6" cy="557.3" r="1.5" fill="#fff" stroke="#4b1f55" stroke-width="0.85"/>
<circle cx="360.2" cy="557.4" r="1.6" fill="#4b1f55"/>
<circle cx="364" cy="557.4" r="1.6" fill="#4b1f55"/>
<circle cx="362.1" cy="558.8" r="1.6" fill="#4b1f55"/>
<line x1="358.5" y1="557.3" x2="365.8" y2="557.3" stroke="#4b1f55" stroke-width="1.7"/>
<line x1="362.1" y1="558" x2="362.1" y2="565.5" stroke="#5a3a62" stroke-width="1"/>
<line x1="359.1" y1="558" x2="365.1" y2="558" stroke="#5a3a62" stroke-width="1"/>
<line x1="359.1" y1="565.5" x2="365.1" y2="565.5" stroke="#5a3a62" stroke-width="1"/>
<circle cx="362.1" cy="573.4" r="1.6" fill="#4b1f55"/>
<circle cx="362.1" cy="579.6" r="1.6" fill="#4b1f55"/>
<text x="247.8" y="636.3" font-size="8.1" text-anchor="end" textLength="25.2" lengthAdjust="spacingAndGlyphs">NHIgG</text>
<text x="247.8" y="650.7" font-size="8.1" text-anchor="end" textLength="13.2" lengthAdjust="spacingAndGlyphs">aPL</text>
<line x1="262.1" y1="633.7" x2="265.9" y2="633.7" stroke="#333" stroke-width="0.85"/>
<line x1="264" y1="631.8" x2="264" y2="635.6" stroke="#333" stroke-width="0.85"/>
<line x1="262.9" y1="648.5" x2="265.1" y2="648.5" stroke="#444" stroke-width="0.85"/>
<line x1="276.6" y1="633.7" x2="278.8" y2="633.7" stroke="#444" stroke-width="0.85"/>
<line x1="275.8" y1="648.5" x2="279.6" y2="648.5" stroke="#333" stroke-width="0.85"/>
<line x1="277.7" y1="646.6" x2="277.7" y2="650.4" stroke="#333" stroke-width="0.85"/>
<line x1="289.9" y1="633.7" x2="293.7" y2="633.7" stroke="#333" stroke-width="0.85"/>
<line x1="291.8" y1="631.8" x2="291.8" y2="635.6" stroke="#333" stroke-width="0.85"/>
<line x1="290.7" y1="648.5" x2="292.9" y2="648.5" stroke="#444" stroke-width="0.85"/>
<line x1="304.4" y1="633.7" x2="306.6" y2="633.7" stroke="#444" stroke-width="0.85"/>
<line x1="303.6" y1="648.5" x2="307.4" y2="648.5" stroke="#333" stroke-width="0.85"/>
<line x1="305.5" y1="646.6" x2="305.5" y2="650.4" stroke="#333" stroke-width="0.85"/>
<line x1="317.1" y1="633.7" x2="320.9" y2="633.7" stroke="#333" stroke-width="0.85"/>
<line x1="319" y1="631.8" x2="319" y2="635.6" stroke="#333" stroke-width="0.85"/>
<line x1="317.9" y1="648.5" x2="320.1" y2="648.5" stroke="#444" stroke-width="0.85"/>
<line x1="332.5" y1="633.7" x2="334.7" y2="633.7" stroke="#444" stroke-width="0.85"/>
<line x1="331.7" y1="648.5" x2="335.5" y2="648.5" stroke="#333" stroke-width="0.85"/>
<line x1="333.6" y1="646.6" x2="333.6" y2="650.4" stroke="#333" stroke-width="0.85"/>
<line x1="345.5" y1="633.7" x2="349.3" y2="633.7" stroke="#333" stroke-width="0.85"/>
<line x1="347.4" y1="631.8" x2="347.4" y2="635.6" stroke="#333" stroke-width="0.85"/>
<line x1="346.3" y1="648.5" x2="348.5" y2="648.5" stroke="#444" stroke-width="0.85"/>
<line x1="360.2" y1="633.7" x2="362.4" y2="633.7" stroke="#444" stroke-width="0.85"/>
<line x1="359.4" y1="648.5" x2="363.2" y2="648.5" stroke="#333" stroke-width="0.85"/>
<line x1="361.3" y1="646.6" x2="361.3" y2="650.4" stroke="#333" stroke-width="0.85"/>
</svg>
</body></html>
